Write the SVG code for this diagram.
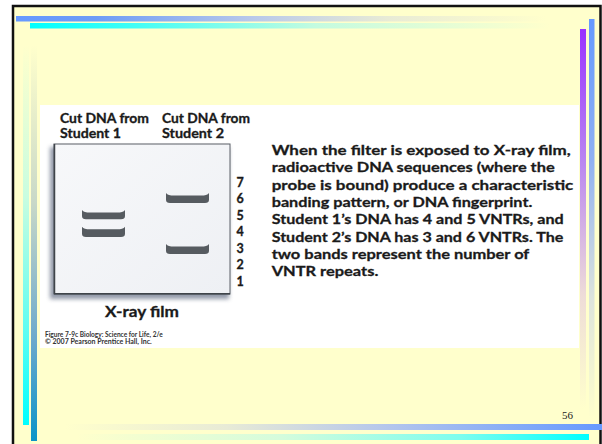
<svg xmlns="http://www.w3.org/2000/svg" width="602" height="444" viewBox="0 0 602 444">
  <defs>
    <linearGradient id="gTopBlue" x1="0" y1="0" x2="1" y2="0">
      <stop offset="0" stop-color="#6699ff"/>
      <stop offset="0.15" stop-color="#6d9cf6"/>
      <stop offset="0.45" stop-color="#b9c9ea"/>
      <stop offset="0.7" stop-color="#e8ebd6"/>
      <stop offset="1" stop-color="#ffffcc"/>
    </linearGradient>
    <linearGradient id="gTopCyan" x1="0" y1="0" x2="1" y2="0">
      <stop offset="0" stop-color="#00ffff"/>
      <stop offset="0.2" stop-color="#40fdf6"/>
      <stop offset="0.55" stop-color="#c4fbe0"/>
      <stop offset="1" stop-color="#ffffcc"/>
    </linearGradient>
    <linearGradient id="gRightPurple" x1="0" y1="0" x2="0" y2="1">
      <stop offset="0" stop-color="#9933ff"/>
      <stop offset="0.35" stop-color="#b986f0"/>
      <stop offset="0.7" stop-color="#eedcd8"/>
      <stop offset="1" stop-color="#ffffcc"/>
    </linearGradient>
    <linearGradient id="gRightBlue" x1="0" y1="0" x2="0" y2="1">
      <stop offset="0" stop-color="#6699ff"/>
      <stop offset="0.35" stop-color="#8fb0f2"/>
      <stop offset="0.7" stop-color="#dde4dc"/>
      <stop offset="1" stop-color="#ffffcc"/>
    </linearGradient>
    <linearGradient id="gLeftCyan" x1="0" y1="0" x2="0" y2="1">
      <stop offset="0" stop-color="#ffffcc"/>
      <stop offset="0.4" stop-color="#c8fde0"/>
      <stop offset="0.75" stop-color="#5ffdf2"/>
      <stop offset="1" stop-color="#00ffff"/>
    </linearGradient>
    <linearGradient id="gLeftBlue" x1="0" y1="0" x2="0" y2="1">
      <stop offset="0" stop-color="#ffffcc"/>
      <stop offset="0.4" stop-color="#c8d8c8"/>
      <stop offset="0.75" stop-color="#6aa8cc"/>
      <stop offset="1" stop-color="#0b94c8"/>
    </linearGradient>
    <linearGradient id="gBotBlue" x1="0" y1="0" x2="1" y2="0">
      <stop offset="0" stop-color="#ffffcc"/>
      <stop offset="0.3" stop-color="#e8ebd6"/>
      <stop offset="0.6" stop-color="#b4c6ec"/>
      <stop offset="1" stop-color="#6699ff"/>
    </linearGradient>
    <linearGradient id="gBotCyan" x1="0" y1="0" x2="1" y2="0">
      <stop offset="0" stop-color="#ffffcc"/>
      <stop offset="0.4" stop-color="#d4fcdc"/>
      <stop offset="0.75" stop-color="#7dfdee"/>
      <stop offset="1" stop-color="#00ffff"/>
    </linearGradient>
    <linearGradient id="gFilm" x1="0" y1="0" x2="1" y2="1">
      <stop offset="0" stop-color="#f7f8fa"/>
      <stop offset="1" stop-color="#eef0f4"/>
    </linearGradient>
    <filter id="fShadow" x="-20%" y="-20%" width="140%" height="140%">
      <feGaussianBlur stdDeviation="2"/>
    </filter>
    <style>
      .t { font-family: "Lato", "Open Sans", "Liberation Sans", sans-serif; font-weight: bold; fill: #1a1a1a; stroke: #1a1a1a; stroke-width: 0.3px; }
      .head { font-size: 12.5px; }
      .num { font-size: 12.5px; }
      .para { font-size: 14px; }
      .cap { font-size: 7px; fill: #333; stroke: none; }
      .band { fill: #565b60; }
    </style>
  </defs>

  <!-- slide background and frame -->
  <rect x="0" y="0" width="602" height="444" fill="#ffffff"/>
  <rect x="13" y="6" width="587.5" height="445" fill="#ffffcc" stroke="#111" stroke-width="2.5"/>

  <!-- decorative bars -->
  <g id="bars">
    <rect x="16" y="16" width="530" height="5.5" fill="url(#gTopBlue)"/>
    <rect x="30" y="23" width="520" height="5.5" fill="url(#gTopCyan)"/>
    <rect x="580" y="29" width="6" height="380" fill="url(#gRightPurple)"/>
    <rect x="589" y="19" width="5.5" height="400" fill="url(#gRightBlue)"/>
    <rect x="23" y="45" width="6" height="380" fill="url(#gLeftCyan)"/>
    <rect x="31" y="45" width="6" height="396" fill="url(#gLeftBlue)"/>
    <rect x="65" y="424" width="537" height="6" fill="url(#gBotBlue)"/>
    <rect x="77" y="434" width="512" height="6" fill="url(#gBotCyan)"/>
  </g>

  <!-- figure panel -->
  <rect x="40" y="105" width="539" height="243" fill="#ffffff"/>

  <g id="lane-labels">
    <text class="t head" x="60" y="122.5" textLength="89" lengthAdjust="spacingAndGlyphs">Cut DNA from</text>
    <text class="t head" x="60" y="137.5" textLength="61" lengthAdjust="spacingAndGlyphs">Student 1</text>
    <text class="t head" x="162" y="122.5" textLength="88" lengthAdjust="spacingAndGlyphs">Cut DNA from</text>
    <text class="t head" x="162" y="137.5" textLength="62" lengthAdjust="spacingAndGlyphs">Student 2</text>
  </g>

  <g id="film">
    <rect x="50" y="147" width="179" height="152" fill="#4a5570" opacity="0.6" filter="url(#fShadow)"/>
    <rect x="54" y="144" width="176" height="150" fill="url(#gFilm)" stroke="#5a5f66" stroke-width="1"/>
    <line x1="54.5" y1="144" x2="54.5" y2="294" stroke="#3f444a" stroke-width="1.5"/>
    <line x1="54" y1="293.8" x2="230" y2="293.8" stroke="#3f444a" stroke-width="1.5"/>
  </g>

  <g id="bands">
    <path class="band" d="M82,210 Q84,212.6 90,212.6 L117,212.6 Q123,212.6 125,210 L125,216 Q125,219.3 121,219.3 L86,219.3 Q82,219.3 82,216 Z"/>
    <path class="band" d="M82,226.7 Q84,229.3 90,229.3 L117,229.3 Q123,229.3 125,226.7 L125,233.7 Q125,237 121,237 L86,237 Q82,237 82,233.7 Z"/>
    <path class="band" d="M166,193 Q168,195.6 174,195.6 L201,195.6 Q207,195.6 209,193 L209,199.7 Q209,203 205,203 L170,203 Q166,203 166,199.7 Z"/>
    <path class="band" d="M166,244 Q168,246.6 174,246.6 L201,246.6 Q207,246.6 209,244 L209,250.7 Q209,254 205,254 L170,254 Q166,254 166,250.7 Z"/>
  </g>

  <g id="scale">
    <text class="t num" x="236.5" y="186.5">7</text>
    <text class="t num" x="236.5" y="203">6</text>
    <text class="t num" x="236.5" y="219.5">5</text>
    <text class="t num" x="236.5" y="236">4</text>
    <text class="t num" x="236.5" y="252.5">3</text>
    <text class="t num" x="236.5" y="269">2</text>
    <text class="t num" x="236.5" y="285.5">1</text>
  </g>

  <g id="film-title">
    <text class="t" x="105" y="316.7" font-size="15.5" font-weight="900" textLength="74" lengthAdjust="spacingAndGlyphs">X-ray film</text>
  </g>

  <g id="credit">
    <text class="t cap" x="45" y="336.7" textLength="117.7" lengthAdjust="spacingAndGlyphs">Figure 7-9c  Biology: Science for Life, 2/e</text>
    <text class="t cap" x="45" y="344.3" textLength="106.7" lengthAdjust="spacingAndGlyphs">© 2007 Pearson Prentice Hall, Inc.</text>
  </g>

  <g id="description">
    <text class="t para" x="271.7" y="155" textLength="299" lengthAdjust="spacingAndGlyphs">When the filter is exposed to X-ray film,</text>
    <text class="t para" x="271.7" y="172.3" textLength="283" lengthAdjust="spacingAndGlyphs">radioactive DNA sequences (where the</text>
    <text class="t para" x="271.7" y="189.7" textLength="301.6" lengthAdjust="spacingAndGlyphs">probe is bound) produce a characteristic</text>
    <text class="t para" x="271.7" y="207" textLength="260.6" lengthAdjust="spacingAndGlyphs">banding pattern, or DNA fingerprint.</text>
    <text class="t para" x="271.7" y="224.3" textLength="292" lengthAdjust="spacingAndGlyphs">Student 1’s DNA has 4 and 5 VNTRs, and</text>
    <text class="t para" x="271.7" y="241.7" textLength="291.6" lengthAdjust="spacingAndGlyphs">Student 2’s DNA has 3 and 6 VNTRs. The</text>
    <text class="t para" x="271.7" y="259" textLength="257.6" lengthAdjust="spacingAndGlyphs">two bands represent the number of</text>
    <text class="t para" x="271.7" y="276.3" textLength="106.6" lengthAdjust="spacingAndGlyphs">VNTR repeats.</text>
  </g>

  <!-- slide number -->
  <text x="562" y="419" font-family="'Liberation Serif', serif" font-size="11" fill="#222">56</text>
</svg>
